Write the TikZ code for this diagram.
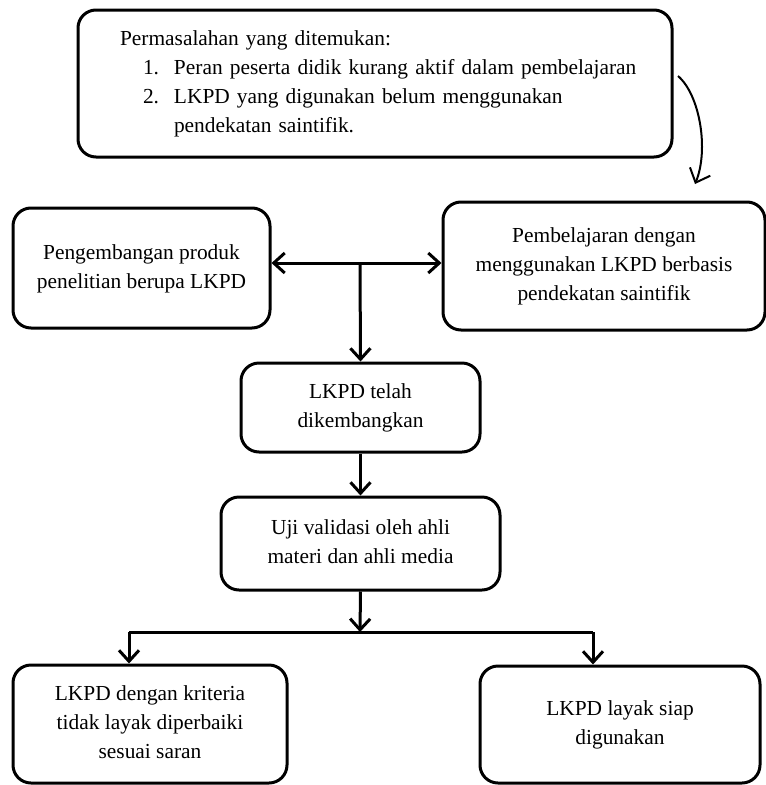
\documentclass[tikz,border=0pt]{standalone}
\usepackage{fontspec}
\setmainfont{Liberation Serif}
\usetikzlibrary{arrows.meta}
\newcommand{\rtxt}[2]{\raisebox{#1}{\begin{tabular}{@{}c@{}}#2\end{tabular}}}
\begin{document}
\begin{tikzpicture}[x=1pt,y=-1pt,
  box/.style={draw, line width=3pt, rounded corners=18pt,
    font=\fontsize{21.4}{29}\selectfont, inner sep=0pt},
  tip/.style={Straight Barb[length=11pt,width=20pt]},
  arr/.style={line width=3pt, -{Straight Barb[length=11pt,width=20pt]}},
  arrboth/.style={line width=3pt, {Straight Barb[length=11pt,width=20pt]}-{Straight Barb[length=11pt,width=20pt]}},
  ln/.style={line width=3pt},
]
\useasboundingbox (0,0) rectangle (766,785);

\node[box, minimum width=594, minimum height=147, text width=510, align=left] (top) at (375,83.5)
 {\mbox{Permasalahan yang ditemukan:}\\
  \mbox{\hspace*{23pt}\makebox[31pt][l]{1.}Peran peserta didik kurang aktif dalam pembelajaran}\\
  \mbox{\hspace*{23pt}\makebox[31pt][l]{2.}LKPD yang digunakan belum menggunakan}\\
  \mbox{\hspace*{54pt}pendekatan saintifik.}};

\node[box, minimum width=257, minimum height=120] (left) at (141.5,268)
 {\rtxt{7pt}{Pengembangan produk\\penelitian berupa LKPD}};
\node[box, minimum width=322, minimum height=128] (right) at (604,266)
 {\rtxt{5pt}{Pembelajaran dengan\\menggunakan LKPD berbasis\\pendekatan saintifik}};
\node[box, minimum width=239, minimum height=89] (lkpd) at (360.5,407.5)
 {\rtxt{0pt}{LKPD telah\\dikembangkan}};
\node[box, minimum width=279, minimum height=93] (uji) at (360.5,543.5)
 {\rtxt{4pt}{Uji validasi oleh ahli\\materi dan ahli media}};
\node[box, minimum width=274, minimum height=118] (bl) at (150,724)
 {\rtxt{4pt}{LKPD dengan kriteria\\tidak layak diperbaiki\\sesuai saran}};
\node[box, minimum width=280, minimum height=117] (br) at (620,724.5)
 {\rtxt{8pt}{LKPD layak siap\\digunakan}};

\coordinate (c1) at (678,76);
\coordinate (c2) at (695,184);
\draw[line width=2pt, -{Straight Barb[length=12pt,width=22pt]}] (c1) .. controls (700,95) and (709,150) .. (c2);

\coordinate (j1) at (360,263);
\draw[arrboth] (left.east |- j1) -- (right.west |- j1);
\draw[arr] (j1) -- (lkpd.north);
\draw[arr] (lkpd.south) -- (uji.north);

\coordinate (j2) at (360,632);
\coordinate (j3) at (129,632);
\coordinate (j4) at (593,632);
\draw[arr] (uji.south) -- (j2);
\draw[ln] (j3) -- (j4);
\draw[arr] (j3) -- (j3 |- bl.north);
\draw[arr] (j4) -- (j4 |- br.north);
\end{tikzpicture}
\end{document}
